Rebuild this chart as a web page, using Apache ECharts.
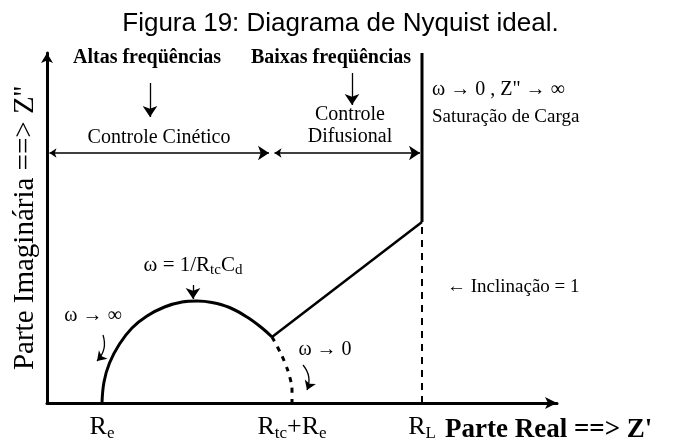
<!DOCTYPE html>
<html>
<head>
<meta charset="utf-8">
<script src="https://cdn.jsdelivr.net/npm/echarts@6/dist/echarts.min.js"></script>
<style>
  html, body { margin: 0; padding: 0; background: #fff; }
  #chart { width: 681px; height: 441px; }
</style>
</head>
<body>
<div id="chart"></div>
<script>
// valores (unidades arbitrarias, mesma escala nos dois eixos)
const tickValues = [11, 49, 75]
const tickLabels = ['R{s|e}', 'R{s|tc}+R{s|e}', 'R{s|L}']

// semicirculo (controle cinetico)
const arcX = [11, 11.4, 12.5, 14.5, 17, 20, 23.5, 27, 30, 33, 36.5, 40, 43, 45]
const arcY = [0, 4.2, 8, 11.8, 15, 17.4, 19.2, 20.2, 20.4, 20.1, 19.1, 17.2, 15, 13.2]
// continuacao tracejada do semicirculo ate Rtc+Re
const dashX = [45, 46.2, 47.6, 48.6, 49, 49]
const dashY = [13.2, 11, 8, 5, 2.5, 0]
// reta de Warburg e saturacao
const difX = [45, 75]
const difY = [13.2, 36.2]
const satX = [75, 75]
const satY = [36.2, 70]
const rlX = [75, 75]
const rlY = [0, 36.2]

const zip = (xs, ys) => xs.map((x, i) => [x, ys[i]])

const serif = "'Liberation Serif', 'DejaVu Serif', serif"
const sub = { fontFamily: serif, fontSize: 17, padding: [12, 0, 0, 0], color: '#000' }

const note = (text, at, opt = {}) => ({
  value: at,
  label: {
    show: true,
    formatter: text,
    position: opt.left ? 'right' : 'inside',
    distance: 0,
    align: opt.left ? 'left' : 'center',
    fontFamily: serif,
    fontSize: opt.size || 20,
    fontWeight: opt.bold ? 'bold' : 'normal',
    lineHeight: opt.lineHeight,
    color: '#000',
    opacity: 1,
    textBorderWidth: 0,
    rich: {
      s: { fontFamily: serif, fontSize: 15, padding: [10, 0, 0, 0], color: '#000' }
    }
  }
})

const chart = echarts.init(document.getElementById('chart'), null, { renderer: 'canvas' })

const option = {
  animation: false,
  backgroundColor: '#fff',
  title: {
    text: 'Figura 19: Diagrama de Nyquist ideal.',
    left: 'center',
    top: 6,
    textStyle: {
      fontFamily: "'Liberation Sans', Arial, sans-serif",
      fontSize: 26,
      fontWeight: 'normal',
      color: '#000'
    }
  },
  grid: {
    left: 47,
    right: 124,
    top: 53,
    bottom: 38,
    containLabel: false,
    outerBoundsMode: 'none'
  },
  xAxis: {
    type: 'value',
    min: 0,
    max: 102,
    name: "Parte Real ==> Z'",
    nameLocation: 'end',
    nameGap: -112,
    nameTextStyle: {
      fontFamily: serif,
      fontSize: 27,
      fontWeight: 'bold',
      color: '#000',
      align: 'left',
      verticalAlign: 'top',
      padding: [14, 0, 0, 0]
    },
    axisLine: {
      show: true,
      symbol: ['none', 'arrow'],
      symbolSize: [9, 12],
      lineStyle: { color: '#000', width: 3 }
    },
    axisTick: { show: false },
    splitLine: { show: false },
    axisLabel: {
      customValues: tickValues,
      margin: 10,
      fontFamily: serif,
      fontSize: 26,
      color: '#000',
      formatter: (v) => tickLabels[tickValues.indexOf(v)],
      rich: { s: sub }
    }
  },
  yAxis: {
    type: 'value',
    min: 0,
    max: 70,
    name: "Parte Imaginária ==> Z''",
    nameLocation: 'middle',
    nameGap: 7,
    nameTextStyle: {
      fontFamily: serif,
      fontSize: 29,
      color: '#000'
    },
    axisLine: {
      show: true,
      symbol: ['none', 'arrow'],
      symbolSize: [9, 10],
      lineStyle: { color: '#000', width: 3 }
    },
    axisTick: { show: false },
    splitLine: { show: false },
    axisLabel: { show: false }
  },
  series: [
    {
      name: 'semicirculo',
      type: 'line',
      data: zip(arcX, arcY),
      smooth: 0.4,
      showSymbol: false,
      lineStyle: { color: '#000', width: 3 }
    },
    {
      name: 'tracejado',
      type: 'line',
      data: zip(dashX, dashY),
      smooth: 0.4,
      showSymbol: false,
      lineStyle: { color: '#000', width: 3, type: [5, 6] }
    },
    {
      name: 'difusao',
      type: 'line',
      data: zip(difX, difY),
      showSymbol: false,
      lineStyle: { color: '#000', width: 2.5 }
    },
    {
      name: 'saturacao',
      type: 'line',
      data: zip(satX, satY),
      showSymbol: false,
      clip: false,
      lineStyle: { color: '#000', width: 3 }
    },
    {
      name: 'RL',
      type: 'line',
      data: zip(rlX, rlY),
      showSymbol: false,
      lineStyle: { color: '#000', width: 2, type: [7, 6] }
    },
    {
      // setas duplas das regioes
      type: 'lines',
      coordinateSystem: 'cartesian2d',
      symbol: ['arrow', 'arrow'],
      symbolSize: [7, 11],
      lineStyle: { color: '#000', width: 1.5, opacity: 1 },
      data: [
        { coords: [[0.5, 50], [44.4, 50]] },
        { coords: [[45.5, 50], [74.6, 50]] }
      ]
    },
    {
      // setas para baixo
      type: 'lines',
      coordinateSystem: 'cartesian2d',
      symbol: ['none', 'arrow'],
      symbolSize: [7, 11],
      lineStyle: { color: '#000', width: 1.3, opacity: 1 },
      data: [
        { coords: [[20.6, 64], [20.6, 57.2]] },
        { coords: [[61, 66], [61, 59.6]] },
        { coords: [[29.2, 23.6], [29.2, 20.8]] }
      ]
    },
    {
      // setas curvas
      type: 'lines',
      coordinateSystem: 'cartesian2d',
      symbol: ['none', 'arrow'],
      symbolSize: [6, 9],
      lineStyle: { color: '#000', width: 1.3, opacity: 1, curveness: 0.3 },
      data: [
        { coords: [[11.2, 13.6], [10, 8.4]] },
        { coords: [[51.2, 7.6], [52, 2.6]] }
      ]
    },
    {
      name: 'notas',
      type: 'scatter',
      symbolSize: 0,
      silent: true,
      itemStyle: { opacity: 1 },
      data: [
        note('Altas freqüências', [20, 69], { bold: true }),
        note('Baixas freqüências', [56.8, 69], { bold: true }),
        note('Controle Cinético', [22.4, 53]),
        note('Controle\nDifusional', [60.6, 55.4], { lineHeight: 22 }),
        note('ω → 0 , Z" → ∞', [77, 62.6], { left: true }),
        note('Saturação de Carga', [77, 57.2], { left: true, size: 19 }),
        note('← Inclinação = 1', [80, 23.2], { left: true, size: 19 }),
        note('ω = 1/R{s|tc}C{s|d}', [29.2, 27.6], { size: 21 }),
        note('ω → ∞', [9.2, 17.4]),
        note('ω → 0', [55.6, 10.6])
      ]
    }
  ]
}

chart.setOption(option)
</script>
</body>
</html>
